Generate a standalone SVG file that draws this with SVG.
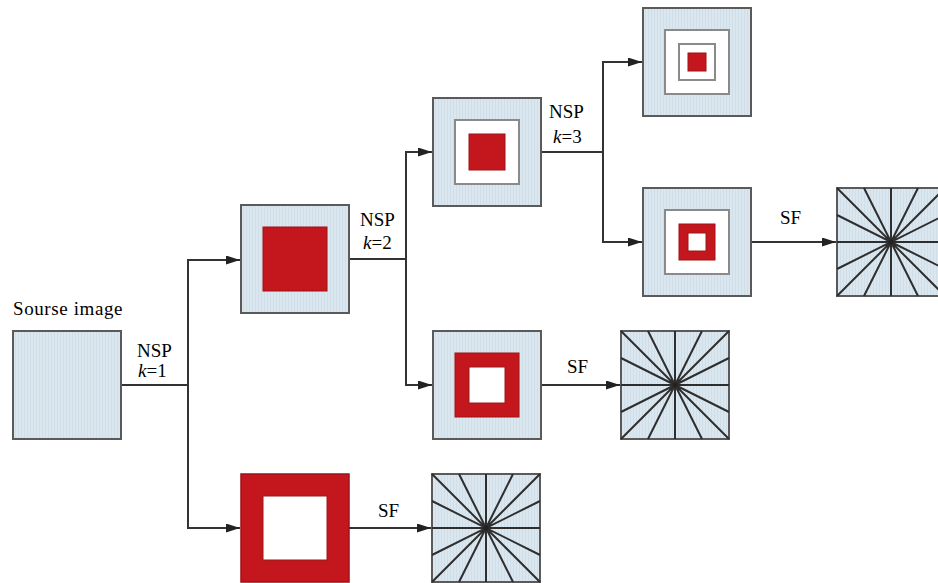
<svg xmlns="http://www.w3.org/2000/svg" xmlns:xlink="http://www.w3.org/1999/xlink" width="938" height="583" viewBox="0 0 938 583">
<style>
.box{fill:url(#tex);stroke:#5a5a5a;stroke-width:2}
.red{fill:#c4161d;stroke:#a01217;stroke-width:1}
.wh{fill:#ffffff;stroke:#8a8a8a;stroke-width:2}
.whr{fill:#ffffff;stroke:#9a1a1a;stroke-width:1}
.ray{stroke:#2e2e2e;stroke-width:2;fill:none}
.con{stroke:#333;stroke-width:2;fill:none}
.arr{marker-end:url(#ah)}
text{font-family:"Liberation Serif","Times New Roman",serif;font-size:19px;fill:#000}
.it{font-style:italic}
</style>
<defs>
<pattern id="tex" patternUnits="userSpaceOnUse" width="3" height="4">
<rect width="3" height="4" fill="#dbe7ef"/>
<rect width="1" height="4" fill="#d0dee9"/>
</pattern>
<marker id="ah" markerUnits="userSpaceOnUse" markerWidth="15" markerHeight="10" refX="14" refY="4.5" orient="auto">
<path d="M0,0 L14,4.5 L0,9 Z" fill="#222"/>
</marker>
<g id="radial">
<rect class="box" x="0" y="0" width="108" height="108"/>
<path class="ray" d="M0,54H108M54,0V108M0,0L108,108M108,0L0,108M27,0L81,108M81,0L27,108M0,27L108,81M0,81L108,27"/>
<circle cx="54" cy="54" r="2.5" fill="#222"/>
</g>
</defs>
<rect width="938" height="583" fill="#ffffff"/>

<g id="connectors">
<path class="con" d="M121,385H188"/>
<path class="con arr" d="M188,385V260H240"/>
<path class="con arr" d="M188,385V528H240"/>
<path class="con" d="M349,259H406"/>
<path class="con arr" d="M406,259V152H432"/>
<path class="con arr" d="M406,259V385H432"/>
<path class="con" d="M541,152H603"/>
<path class="con arr" d="M603,152V62H642"/>
<path class="con arr" d="M603,152V242H642"/>
<path class="con arr" d="M751,242H836"/>
<path class="con arr" d="M541,385H620"/>
<path class="con arr" d="M349,528H431"/>
</g>

<g id="labels">
<text x="13" y="315" letter-spacing="0.6">Sourse image</text>
<text x="137" y="357">NSP</text>
<text x="138" y="377"><tspan class="it">k</tspan>=1</text>
<text x="360" y="226">NSP</text>
<text x="363" y="249"><tspan class="it">k</tspan>=2</text>
<text x="549" y="118">NSP</text>
<text x="553" y="143"><tspan class="it">k</tspan>=3</text>
<text x="378" y="517">SF</text>
<text x="567" y="373">SF</text>
<text x="780" y="224">SF</text>
</g>

<g id="source">
<rect class="box" x="13" y="331" width="108" height="108"/>
</g>

<g id="k1-inner">
<rect class="box" x="241" y="205" width="108" height="108"/>
<rect class="red" x="263" y="227" width="64" height="64"/>
</g>

<g id="k1-outer">
<rect x="241" y="474" width="108" height="108" fill="#c4161d" stroke="#a01217" stroke-width="1.5"/>
<rect class="whr" x="263" y="496" width="64" height="64"/>
</g>

<g id="k2-inner">
<rect class="box" x="433" y="98" width="108" height="108"/>
<rect class="wh" x="455" y="120" width="64" height="64"/>
<rect class="red" x="469" y="134" width="36" height="36"/>
</g>

<g id="k2-outer">
<rect class="box" x="433" y="331" width="108" height="108"/>
<rect class="red" x="455" y="353" width="64" height="64"/>
<rect class="whr" x="469" y="367" width="36" height="36"/>
</g>

<g id="k3-inner">
<rect class="box" x="643" y="8" width="108" height="108"/>
<rect class="wh" x="665" y="30" width="64" height="64"/>
<rect class="wh" x="679" y="44" width="36" height="36"/>
<rect class="red" x="688" y="53" width="18" height="18"/>
</g>

<g id="k3-outer">
<rect class="box" x="643" y="188" width="108" height="108"/>
<rect class="wh" x="665" y="210" width="64" height="64"/>
<rect class="red" x="679" y="224" width="36" height="36"/>
<rect class="whr" x="688" y="233" width="18" height="18"/>
</g>

<g id="sf-k1">
<use xlink:href="#radial" x="432" y="474"/>
</g>
<g id="sf-k2">
<use xlink:href="#radial" x="621" y="331"/>
</g>
<g id="sf-k3">
<use xlink:href="#radial" x="837" y="188"/>
</g>
</svg>
